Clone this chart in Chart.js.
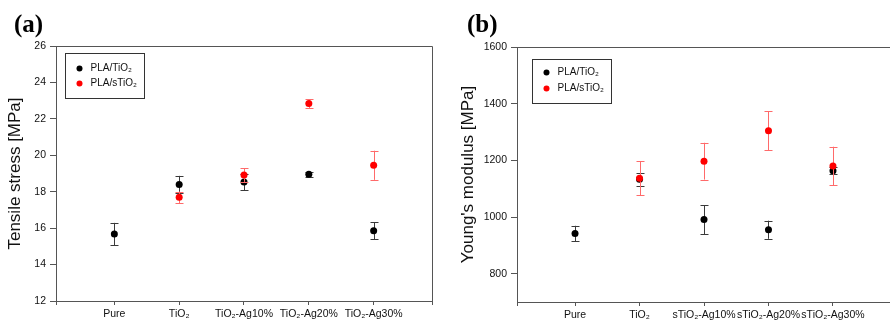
<!DOCTYPE html>
<html>
<head>
<meta charset="utf-8">
<script src="https://cdn.jsdelivr.net/npm/chart.js@4/dist/chart.umd.min.js"></script>
<style>
  html, body { margin: 0; padding: 0; background: #fff; width: 890px; height: 322px; overflow: hidden; position: relative; }
  .panel { position: absolute; top: 0; height: 322px; }
  #pa { left: 0; width: 445px; }
  #pb { left: 445px; width: 450px; }
  .plabel { position: absolute; font-family: "Liberation Serif", serif; font-weight: bold; font-size: 25px; line-height: 1; }
</style>
</head>
<body>
<div class="panel" id="pa"><canvas id="ca" width="445" height="322"></canvas></div>
<div class="panel" id="pb"><canvas id="cb" width="450" height="322"></canvas></div>
<div class="plabel" style="left:14px; top:11px;">(a)</div>
<div class="plabel" style="left:467px; top:11px;">(b)</div>
<script>
// ---- Data ----
const seriesNames = ['PLA/TiO\u2082', 'PLA/sTiO\u2082'];

const categoriesA = ['Pure', 'TiO\u2082', 'TiO\u2082-Ag10%', 'TiO\u2082-Ag20%', 'TiO\u2082-Ag30%'];
const tensileTiO2 = [15.68, 18.40, 18.53, 18.96, 15.86];
const tensileTiO2Err = [0.61, 0.47, 0.45, 0.13, 0.46];
const tensileSTiO2 = [null, 17.69, 18.92, 22.84, 19.45];
const tensileSTiO2Err = [null, 0.32, 0.38, 0.24, 0.80];
const tensileTicks = [12, 14, 16, 18, 20, 22, 24, 26];

const categoriesB = ['Pure', 'TiO\u2082', 'sTiO\u2082-Ag10%', 'sTiO\u2082-Ag20%', 'sTiO\u2082-Ag30%'];
const modulusTiO2 = [942, 1133, 991, 955, 1163];
const modulusTiO2Err = [27, 22, 51, 32, 12];
const modulusSTiO2 = [null, 1137, 1197, 1304, 1180];
const modulusSTiO2Err = [null, 60, 65, 69, 68];
const modulusTicks = [800, 1000, 1200, 1400, 1600];

// ---- helpers ----
const AXIS = '#555555';
const FONT = "'Liberation Sans', Arial, sans-serif";

function toPoints(values, errs) {
  const pts = [];
  values.forEach((v, i) => { if (v !== null) pts.push({ x: i + 1, y: v, err: errs[i] }); });
  return pts;
}

const errorBarPlugin = {
  id: 'errorBars',
  beforeDatasetDraw(chart, args) {
    const ds = chart.data.datasets[args.index];
    const yScale = chart.scales.y;
    const ctx = chart.ctx;
    ctx.save();
    ctx.strokeStyle = ds.errColor;
    ctx.lineWidth = 1;
    args.meta.data.forEach((el, i) => {
      const p = ds.data[i];
      if (!p || p.err == null) return;
      const x = Math.round(el.x) + 0.5;
      const yt = yScale.getPixelForValue(p.y + p.err);
      const yb = yScale.getPixelForValue(p.y - p.err);
      ctx.beginPath();
      ctx.moveTo(x, yt); ctx.lineTo(x, yb);
      ctx.moveTo(x - 4, Math.round(yt) + 0.5); ctx.lineTo(x + 4, Math.round(yt) + 0.5);
      ctx.moveTo(x - 4, Math.round(yb) + 0.5); ctx.lineTo(x + 4, Math.round(yb) + 0.5);
      ctx.stroke();
    });
    ctx.restore();
  }
};

const framePlugin = {
  id: 'frame',
  beforeDatasetsDraw(chart) {
    const { ctx, chartArea: a } = chart;
    ctx.save();
    ctx.strokeStyle = AXIS;
    ctx.lineWidth = 1;
    ctx.beginPath();
    ctx.moveTo(Math.round(a.left), Math.round(a.top) + 0.5);
    ctx.lineTo(Math.round(a.right) + 0.5, Math.round(a.top) + 0.5);
    ctx.lineTo(Math.round(a.right) + 0.5, Math.round(a.bottom));
    ctx.stroke();
    ctx.restore();
  }
};

const boxLegendPlugin = {
  id: 'boxLegend',
  afterDraw(chart, args, opts) {
    const { ctx, chartArea: a } = chart;
    const x0 = Math.round(a.left + opts.dx) + 0.5, y0 = Math.round(a.top + opts.dy) + 0.5;
    ctx.save();
    ctx.strokeStyle = '#333';
    ctx.lineWidth = 1;
    ctx.strokeRect(x0, y0, opts.w, opts.h);
    ctx.font = '10px ' + FONT;
    ctx.textBaseline = 'middle';
    chart.data.datasets.forEach((ds, i) => {
      const cy = y0 + opts.rowY[i];
      ctx.fillStyle = ds.backgroundColor;
      ctx.beginPath();
      ctx.arc(x0 + 14, cy, 3, 0, Math.PI * 2);
      ctx.fill();
      ctx.fillStyle = '#111';
      ctx.fillText(ds.label, x0 + 25, cy);
    });
    ctx.restore();
  }
};

function makeChart(canvasId, cats, s1, e1, s2, e2, yTicks, yMin, yMax, yTitle, cfg) {
  return new Chart(document.getElementById(canvasId), {
    type: 'scatter',
    data: {
      datasets: [
        { label: seriesNames[0], data: toPoints(s1, e1), backgroundColor: '#000000', borderWidth: 0,
          pointRadius: 3.5, errColor: '#3a3a3a', order: 2 },
        { label: seriesNames[1], data: toPoints(s2, e2), backgroundColor: '#ff0000', borderWidth: 0,
          pointRadius: 3.5, errColor: '#ff6a6a', order: 1 }
      ]
    },
    plugins: [errorBarPlugin, framePlugin, boxLegendPlugin],
    options: {
      responsive: false,
      animation: false,
      events: [],
      layout: { padding: cfg.padding },
      plugins: {
        legend: { display: false },
        tooltip: { enabled: false },
        boxLegend: cfg.legend
      },
      scales: {
        x: {
          type: 'linear',
          min: 0.1, max: 5.9,
          afterFit: s => { s.height = cfg.xHeight; },
          afterBuildTicks: s => { s.ticks = [0.1, 1, 2, 3, 4, 5, 5.9].map(v => ({ value: v })); },
          grid: { drawOnChartArea: false, drawTicks: true, tickLength: 4, color: AXIS },
          border: { display: true, color: AXIS },
          ticks: {
            autoSkip: false, maxRotation: 0, padding: 3,
            color: '#111', font: { family: FONT, size: 10.5 },
            callback: v => (Number.isInteger(v) ? cats[v - 1] : '')
          }
        },
        y: {
          min: yMin, max: yMax,
          afterFit: s => { s.width = cfg.yWidth; },
          afterBuildTicks: s => { s.ticks = yTicks.map(v => ({ value: v })); },
          grid: { drawOnChartArea: false, drawTicks: true, tickLength: 6, color: AXIS },
          border: { display: true, color: AXIS },
          ticks: { padding: 4, color: '#111', font: { family: FONT, size: 10.5 }, callback: v => String(v) },
          title: { display: true, text: yTitle, color: '#111', font: { family: FONT, size: 17 },
                   padding: { top: cfg.titlePad, bottom: 0 } }
        }
      }
    }
  });
}

makeChart('ca', categoriesA, tensileTiO2, tensileTiO2Err, tensileSTiO2, tensileSTiO2Err,
  tensileTicks, 12, 26, 'Tensile stress [MPa]',
  { padding: { top: 46, right: 13, bottom: 0, left: 0 }, xHeight: 21, yWidth: 56, titlePad: 5,
    legend: { dx: 9, dy: 7, w: 79, h: 45, rowY: [15, 30] } });

makeChart('cb', categoriesB, modulusTiO2, modulusTiO2Err, modulusSTiO2, modulusSTiO2Err,
  modulusTicks, 700, 1600, "Young's modulus [MPa]",
  { padding: { top: 47, right: 2, bottom: 0, left: 0 }, xHeight: 20, yWidth: 72, titlePad: 13,
    legend: { dx: 15, dy: 12, w: 79, h: 44, rowY: [13, 29] } });
</script>
</body>
</html>
